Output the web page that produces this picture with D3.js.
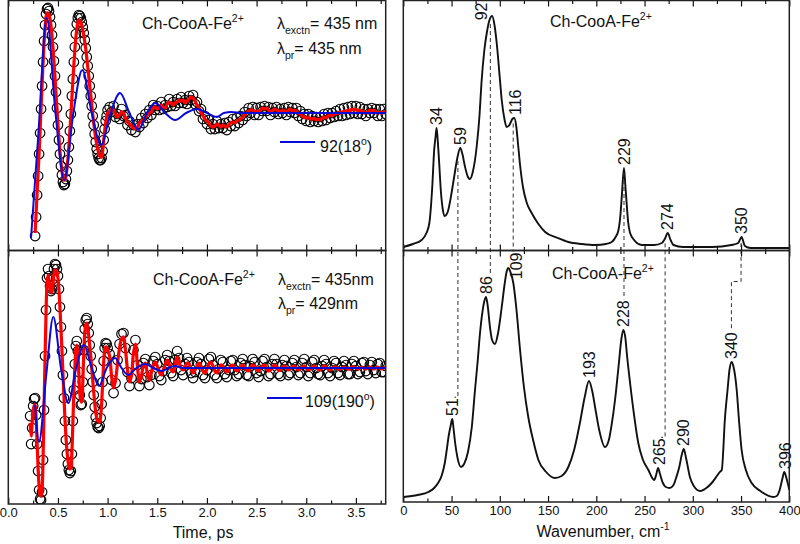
<!DOCTYPE html>
<html><head><meta charset="utf-8">
<script src="https://cdn.jsdelivr.net/npm/d3@7"></script>
<style>
body{margin:0;background:#fff;}
svg{display:block;font-family:"Liberation Sans",Arial,Helvetica,sans-serif;}
</style></head><body>
<svg id="c" width="800" height="544"></svg>
<script>
// ---------------- DATA ----------------
// time grids (ps)
const tTopEarly = d3.range(27, 100).map(d => d / 100);   // 0.27 .. 0.99
const tBotEarly = d3.range(22, 100).map(d => d / 100);   // 0.22 .. 0.99
const tLate = d3.range(50, 191).map(d => d / 50);        // 1.00 .. 3.80

// upper-left: lambda_pr = 435 nm (signal, arb. units)
const topDataEarly = [-123,-104,-82,-63,-41,-20,4,27,51,72,88,99,104,
 105,102,96,88,78,66,52,37,21,5,
 -12,-27,-41,-53,-62,-69,-72,-71,-66,-58,
 -47,-34,-18,-1,17,34,51,66,79,89,
 95,98,97,95,91,86,80,73,65,56,
 47,37,27,17,7,-3,-12,-21,-29,-36,
 -41,-45,-47,-47,-45,-38,-27,-16,-8,-3];
const topDataLate = [3,6,1,7,-4,-1,-6,4,-3,-2,-12,
 -8,-17,-12,-19,-11,-14,-5,-10,-1,-5,
 3,-2,8,3,7,3,11,4,8,6,
 14,7,11,7,14,10,16,10,13,9,
 17,13,18,9,11,2,4,-6,-3,-11,
 -7,-16,-11,-16,-8,-15,-11,-15,-10,-17,
 -9,-13,-6,-13,-5,-10,-3,-7,1,-3,
 5,0,6,-2,5,-2,6,2,7,2,
 6,-2,5,1,6,-1,4,0,5,-2,
 6,1,5,0,5,-3,2,-6,-1,-8,
 -1,-9,-3,-8,-4,-9,-4,-8,-1,-7,
 0,-5,0,-4,2,-3,4,-3,5,-2,
 6,-1,7,0,7,-1,6,-1,4,-3,
 4,0,5,0,4,-3,4,-3,4,-1];
const topFitEarly = [-120,-100,-80,-60,-40,-18,5,28,50,70,85,95,100,
 100,98,94,87,77,65,51,36,20,5,
 -11,-25,-38,-49,-58,-64,-67,-67,-63,-56,
 -46,-33,-18,-2,15,32,48,63,75,84,
 90,93,92,91,88,83,78,71,64,55,
 46,37,27,18,8,-1,-10,-18,-25,-31,
 -36,-40,-43,-44,-44,-38,-28,-18,-10,-4];
const topFitLate = [0,2,4,3,-1,-4,-2,1,0,-5,-9,
 -11,-13,-15,-16,-14,-10,-8,-7,-4,-2,
 0,1,5,6,4,6,8,6,5,9,
 11,10,8,10,11,13,12,13,10,12,
 14,16,15,12,8,5,1,-3,-6,-8,
 -10,-13,-14,-13,-11,-12,-14,-12,-13,-14,
 -12,-10,-9,-10,-8,-7,-6,-4,-2,0,
 2,3,3,1,2,1,3,5,4,5,
 3,1,2,4,3,2,1,3,2,1,
 3,4,2,3,2,0,-1,-3,-4,-5,
 -4,-6,-6,-5,-7,-6,-7,-5,-4,-5,
 -3,-2,-3,-1,-1,0,1,0,2,1,
 3,2,4,3,4,2,3,2,1,0,
 1,3,2,3,1,0,1,0,1,1];
const topCompT = [0.229,0.30,0.387,0.475,0.564,0.655,0.745,0.84,0.934,1.03,1.125,1.22,1.31,1.395,1.48,1.58,1.68,1.79,1.90,2.0,2.10,2.17,2.25,2.35,3.80];
const topCompV = [-125,-25,95,0,-67,0,43,0,-32,0,20,0,-17,0,10,0,-7,0,4,0,-4,0,1,0,0];

// lower-left: lambda_pr = 429 nm
const botDataEarly = [-48,-76,-60,-38,-31,-30,-47,-76,
 -103,-122,-131,-132,-124,-92,-42,12,58,90,
 99,92,82,77,79,89,99,104,103,99,
 92,79,61,41,17,-7,-30,-53,-72,-86,
 -96,-102,-105,-103,-86,-53,-22,4,22,27,
 17,-4,-27,-37,-36,-14,18,39,48,50,
 44,35,23,12,-1,-14,-27,-39,-49,-55,
 -59,-60,-58,-50,-36,-14,7,20,25,24];
const botDataLate = [20,14,-12,-25,-15,8,24,34,35,20,-4,
 -18,-10,18,28,3,-18,-11,5,9,-9,
 -17,-7,7,11,4,-8,-12,-3,8,13,
 7,-5,-8,8,17,10,-2,-7,4,10,
 6,-5,-10,-4,6,10,4,-7,-10,-2,
 9,11,3,-7,-10,-1,8,6,-6,-9,
 -2,7,8,-2,-8,-6,5,9,3,-7,
 -8,2,9,6,-5,-9,-3,7,9,1,
 -8,-6,4,9,4,-6,-8,3,8,2,
 -7,-5,5,8,1,-7,-5,5,9,1,
 -8,-5,6,8,0,-6,-7,2,8,4,
 -5,-8,0,7,5,-5,-7,1,7,3,
 -6,-6,4,7,2,-6,-4,5,6,-3,
 -6,3,6,-2,-5,4,5,-4,-4,2];
const botFitEarly = [-55,-68,-55,-42,-38,-37,-50,-75,
 -100,-118,-127,-128,-122,-90,-40,10,55,85,
 93,88,80,76,76,84,94,98,98,96,
 90,78,60,40,18,-5,-28,-50,-68,-82,
 -92,-98,-101,-100,-85,-55,-25,0,18,23,
 15,-5,-25,-33,-34,-15,15,35,43,45,
 40,32,22,12,0,-12,-24,-35,-44,-50,
 -53,-54,-54,-48,-35,-15,5,17,21,21];
const botFitLate = [18,12,-8,-20,-12,5,20,29,31,18,-2,
 -14,-8,15,24,2,-14,-8,2,5,-6,
 -12,-5,3,6,2,-4,-7,-2,4,8,
 4,-2,-4,4,11,6,0,-2,1,5,
 4,-1,-5,-2,2,5,2,-3,-5,-1,
 4,6,2,-3,-5,-1,3,2,-2,-4,
 -1,2,3,0,-3,-2,1,3,1,-2,
 -3,0,3,2,-1,-3,-1,2,3,0,
 -3,-2,1,3,1,-2,-2,1,2,0,
 -2,-1,1,2,0,-2,-1,1,2,0,
 -2,-1,1,2,0,-1,-2,0,2,1,
 -1,-2,0,1,1,-1,-1,0,1,0,
 -1,-1,1,1,0,-1,0,1,0,-1,
 0,1,0,-1,0,1,0,-1,0,0];
const botCompT = [0.269,0.309,0.381,0.453,0.53,0.604,0.683,0.762,0.84,0.913,0.99,1.075,1.14,1.208,1.29,1.377,1.46,1.545,1.61,1.68,1.76,3.80];
const botCompV = [-37,-74,-8,51,0,-35,0,23,0,-18,0,10,0,-7,0,4,0,-3,0,2,0,0];

// right: power spectra (wavenumber cm-1, amplitude arb. units)
const specTopW = [0,10,19,24,27,30,32,33.5,34.5,35.5,37,39,41,43,46,50,53,56,59,61,64,67,69,72,76,79,81,84,86.5,89,92,94.5,97,100,102,105,107,110,113,115,117,118.5,121,124,128,133,140,147,160,171,185,199,210,216,220,223,225,226.5,228.7,230,231.5,233,235,240,247,260,268,271,274,277,280,290,320,340,347,350.5,354,360,400];
const specTopV = [3,6,10,17,27,63,100,114,122,112,90,58,40,34,38,57,75,92,102,97,83,73,71,78,103,135,167,200,217,229,234,225,205,172,150,130,123,125,131,132,124,110,85,63,47,37,26,18,12,8,6,5,6,8,13,20,35,55,82,66,46,28,17,9,5,5,7,11,17,10,5,3,3,5,7,13,4,2,2];
const specBotW = [0,15,26,32,36,40,43,45,47,49,50.8,52,53.6,56,59.8,63,67,71,74.3,77,79.5,82,84,85.7,87.5,89.8,92,95,98,102,105,107,108.8,111,114,117,121,125,129.5,135,140,148,157,164,171,177,183,188,192.4,196,198.7,203,209,213,216,219.4,223,226,228,230,232,235,239,243.5,248,254,258,260,262,264,266,269,272,276,280,283,286,288.5,290.6,293,297,301,307.5,314,319.6,325,328,330,333.4,336,338,340.3,342,345.5,348,350.6,355,361,370,383.4,387,390,393,394.8,397,400];
const specBotV = [5,7,10,14,19,27,39,52,66,76,83,74,60,45,35,38,50,75,112,140,169,190,201,205,196,175,162,158,168,195,218,230,234,230,219,195,152,115,85,60,42,30,24,26,35,52,79,105,121,110,95,72,55,62,78,102,135,163,172,165,145,119,88,59,43,32,24,22,27,34,28,19,15,14,17,25,35,47,53,44,25,16,11,14,19,26,30,32,85,112,132,140,136,112,80,52,32,19,11,5,6,12,24,30,24,12];

const peaksTop = [34, 59, 92, 116, 229, 274, 350];
const peaksBot = [51, 86, 109, 193, 228, 265, 290, 340, 396];
const peakLinks = [[59,51],[92,86],[116,109],[229,228],[274,265],[350,340]];

const timeTicks = [0,0.5,1,1.5,2,2.5,3,3.5];
const timeMinor = [0.25,0.75,1.25,1.75,2.25,2.75,3.25,3.75];
const wnTicks = [0,50,100,150,200,250,300,350,400];
const wnMinor = [25,75,125,175,225,275,325,375];

// ---------------- LAYOUT ----------------
const svg = d3.select("#c");
const INK = "#111";
const xL = d3.scaleLinear().domain([0, 3.8]).range([8.3, 385.7]);
const xR = d3.scaleLinear().domain([0, 400]).range([403.3, 789.3]);
const yTL = d3.scaleLinear().domain([-137, 113]).range([250, 0]);
const yBL = d3.scaleLinear().domain([-136, 117]).range([504, 251]);
const yTR = d3.scaleLinear().domain([0, 250]).range([250, 0]);
const yBR = d3.scaleLinear().domain([0, 251]).range([502, 251]);
const MID = 250.5;

const panels = [
  {id:"tl", x:xL, y0:0.5, y1:MID},
  {id:"bl", x:xL, y0:MID, y1:504},
  {id:"tr", x:xR, y0:0.5, y1:MID},
  {id:"br", x:xR, y0:MID, y1:502}
];
const defs = svg.append("defs");
panels.forEach(p => {
  const r = p.x.range();
  defs.append("clipPath").attr("id", "clip-" + p.id).append("rect")
    .attr("x", r[0]).attr("y", p.y0).attr("width", r[1] - r[0]).attr("height", p.y1 - p.y0);
});

function zip(ts, vs) { const n = Math.min(ts.length, vs.length); return d3.range(n).map(i => [ts[i], vs[i]]); }

// ---------- time-domain panels ----------
function timePanel(id, yS, tEarly, dEarly, fEarly, dLate, fLate, compT, compV) {
  const g = svg.append("g").attr("clip-path", `url(#clip-${id})`);
  const data = zip(tEarly, dEarly).concat(zip(tLate, dLate));
  const fit = zip(tEarly, fEarly).concat(zip(tLate, fLate));
  g.append("g").selectAll("circle").data(data).join("circle")
    .attr("cx", d => xL(d[0])).attr("cy", d => yS(d[1])).attr("r", 4.8)
    .attr("fill", "none").attr("stroke", "#000").attr("stroke-width", 1.15);
  g.append("path").datum(fit)
    .attr("d", d3.line().x(d => xL(d[0])).y(d => yS(d[1])).curve(d3.curveCatmullRom.alpha(0.5)))
    .attr("fill", "none").attr("stroke", "#f00").attr("stroke-width", 3.2).attr("stroke-linejoin", "round");
  g.append("path").datum(zip(compT, compV))
    .attr("d", d3.line().x(d => xL(d[0])).y(d => yS(d[1])).curve(d3.curveMonotoneX))
    .attr("fill", "none").attr("stroke", "#0a0ad8").attr("stroke-width", 2);
}
timePanel("tl", yTL, tTopEarly, topDataEarly, topFitEarly, topDataLate, topFitLate, topCompT, topCompV);
timePanel("bl", yBL, tBotEarly, botDataEarly, botFitEarly, botDataLate, botFitLate, botCompT, botCompV);

// ---------- spectra ----------
const specLine = yS => d3.line().x(d => xR(d[0])).y(d => yS(d[1])).curve(d3.curveMonotoneX);
function interp(W, V, w) {
  const i = d3.bisectRight(W, w);
  if (i <= 0) return V[0];
  if (i >= W.length) return V[V.length - 1];
  const f = (w - W[i - 1]) / (W[i] - W[i - 1]);
  return V[i - 1] + f * (V[i] - V[i - 1]);
}
function peakVal(W, V, w) {
  let m = -Infinity;
  W.forEach((x, i) => { if (Math.abs(x - w) <= 4 && V[i] > m) m = V[i]; });
  return m;
}
const labelShift = {92: -10.5, 109: 8};   // labels that do not fit above their peak
function peakLabels(g, W, V, yS, peaks, yTop) {
  const info = {};
  peaks.forEach(w => {
    const x = xR(w), yp = yS(peakVal(W, V, w)) - 3;
    const t = g.append("text").attr("font-size", 16).attr("fill", INK)
      .attr("dy", "0.35em").text(w);
    const len = t.node().getComputedTextLength();
    if (yp - len < yTop + 1) {
      const xx = x + (labelShift[w] || 0), ya = yTop + 2;
      t.attr("text-anchor", "end").attr("transform", `translate(${xx},${ya}) rotate(-90)`);
      info[w] = {x: xx, top: ya};
    } else {
      t.attr("text-anchor", "start").attr("transform", `translate(${x},${yp}) rotate(-90)`);
      info[w] = {x: x, top: yp - len};
    }
  });
  return info;
}
const gTR = svg.append("g");
gTR.append("path").datum(zip(specTopW, specTopV)).attr("clip-path", "url(#clip-tr)")
  .attr("d", specLine(yTR)).attr("fill", "none").attr("stroke", INK).attr("stroke-width", 1.9);
const gBR = svg.append("g");
gBR.append("path").datum(zip(specBotW, specBotV)).attr("clip-path", "url(#clip-br)")
  .attr("d", specLine(yBR)).attr("fill", "none").attr("stroke", INK).attr("stroke-width", 1.9);
peakLabels(gTR, specTopW, specTopV, yTR, peaksTop, 0.5);
const botInfo = peakLabels(gBR, specBotW, specBotV, yBR, peaksBot, MID);

// dashed correlation lines
peakLinks.forEach(([a, b]) => {
  const d = a - b, bl = botInfo[b];
  let pts;
  if (d <= 9) {
    const wl = a - d * 0.3, x = xR(wl);
    const y0 = yTR(interp(specTopW, specTopV, wl)) + 5;
    pts = [[x, y0], [x, bl.top - 1]];
    if (d >= 8) pts.push([bl.x + 2, bl.top - 1]);
  } else {
    const x = xR(a), x2 = xR(b), yj = MID + 31;
    const y0 = yTR(interp(specTopW, specTopV, a)) + 5;
    pts = [[x, y0], [x, yj], [x2, yj], [x2, bl.top - 1]];
  }
  svg.append("path").attr("d", d3.line()(pts)).attr("fill", "none")
    .attr("stroke", "#333").attr("stroke-width", 1).attr("stroke-dasharray", "4,3");
});

// ---------- axes & frames ----------
function styleAxis(sel) {
  sel.select(".domain").remove();
  sel.selectAll("line").attr("stroke", INK).attr("stroke-width", 1.2);
  sel.selectAll("text").attr("fill", INK).attr("font-size", 13)
     .attr("font-family", '"Liberation Sans", Arial, Helvetica, sans-serif');
}
function edgeTicks(scale, y, majors, minors, bottom, labels, pad, fmt) {
  const mk = bottom ? d3.axisBottom : d3.axisTop;
  const a1 = mk(scale).tickValues(majors).tickSizeInner(-6).tickSizeOuter(0).tickPadding(pad)
    .tickFormat(labels ? fmt : () => "");
  const a2 = mk(scale).tickValues(minors).tickSizeInner(-3.5).tickSizeOuter(0).tickFormat(() => "");
  svg.append("g").attr("transform", `translate(0,${y})`).call(a1).call(styleAxis);
  svg.append("g").attr("transform", `translate(0,${y})`).call(a2).call(styleAxis);
}
const ft = d3.format(".1f"), fw = d3.format("d");
edgeTicks(xL, 0.5, timeTicks, timeMinor, false, false, 0, ft);
edgeTicks(xL, MID, timeTicks, timeMinor, true, false, 0, ft);
edgeTicks(xL, MID, timeTicks, timeMinor, false, false, 0, ft);
edgeTicks(xL, 504, timeTicks, timeMinor, true, true, 4, ft);
edgeTicks(xR, 0.5, wnTicks, wnMinor, false, false, 0, fw);
edgeTicks(xR, MID, wnTicks, wnMinor, true, false, 0, fw);
edgeTicks(xR, MID, wnTicks, wnMinor, false, false, 0, fw);
edgeTicks(xR, 502, wnTicks, wnMinor, true, true, 4, fw);

panels.forEach(p => {
  const r = p.x.range();
  svg.append("rect").attr("x", r[0]).attr("y", p.y0).attr("width", r[1] - r[0]).attr("height", p.y1 - p.y0)
    .attr("fill", "none").attr("stroke", "#222").attr("stroke-width", 1.5);
});

// ---------- text ----------
function title(x, y) {
  const t = svg.append("text").attr("x", x).attr("y", y).attr("font-size", 16).attr("fill", INK);
  t.append("tspan").text("Ch-CooA-Fe");
  t.append("tspan").attr("font-size", 10.5).attr("dy", -7).text("2+");
}
function lambda(x, y, sub, rest) {
  const t = svg.append("text").attr("x", x).attr("y", y).attr("font-size", 16).attr("fill", INK);
  t.append("tspan").text("λ");
  t.append("tspan").attr("font-size", 10.5).attr("dy", 5).text(sub);
  t.append("tspan").attr("dy", -5).text(rest);
}
function legend(x1, x2, y, x, yb, main, deg) {
  svg.append("line").attr("x1", x1).attr("x2", x2).attr("y1", y).attr("y2", y)
    .attr("stroke", "#0a0ad8").attr("stroke-width", 2);
  const t = svg.append("text").attr("x", x).attr("y", yb).attr("font-size", 16).attr("fill", INK);
  t.append("tspan").text(main + "(" + deg);
  t.append("tspan").attr("font-size", 10.5).attr("dy", -7).text("o");
  t.append("tspan").attr("dy", 7).text(")");
}
title(142, 29);
lambda(277, 29, "exctn", "= 435 nm");
lambda(277, 54, "pr", "= 435 nm");
legend(280, 315, 142, 320, 152, "92", "18");

title(153, 285);
lambda(278, 285, "exctn", "= 435nm");
lambda(278, 309, "pr", "= 429nm");
legend(267, 302, 398, 305, 407, "109", "190");

title(550, 27);
title(552, 279);

svg.append("text").attr("x", 203).attr("y", 538).attr("text-anchor", "middle")
  .attr("font-size", 16).attr("fill", INK).text("Time, ps");
const wt = svg.append("text").attr("x", 603).attr("y", 537).attr("text-anchor", "middle")
  .attr("font-size", 16).attr("fill", INK);
wt.append("tspan").text("Wavenumber, cm");
wt.append("tspan").attr("font-size", 10.5).attr("dy", -7).text("-1");
</script>
</body></html>
